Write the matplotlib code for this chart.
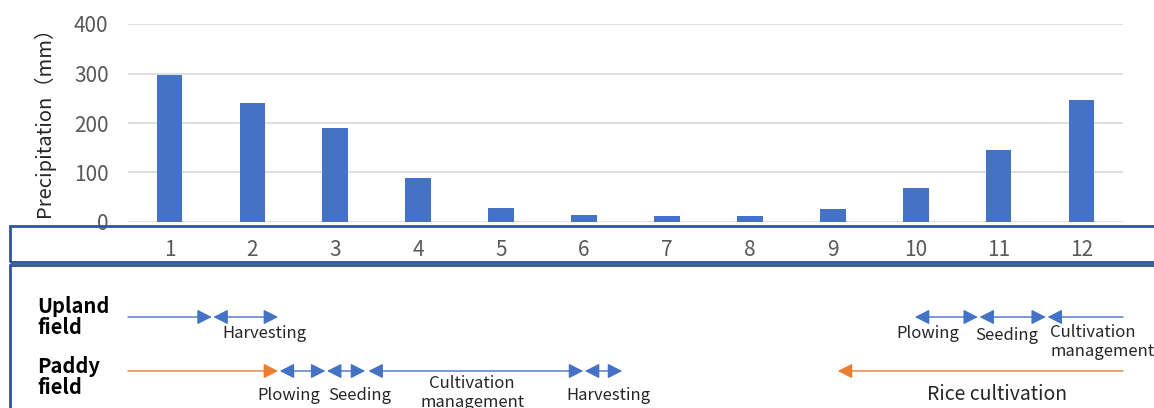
import matplotlib.pyplot as plt
from matplotlib.patches import Rectangle

plt.rcParams['font.family'] = ['Noto Sans CJK JP', 'DejaVu Sans']

# data
months = list(range(1, 13))
precip = [297, 240, 190, 89, 28, 14, 12, 12, 27, 68, 145, 247]

# work stages: (label, start month, end month, label x)
upland_stages = [
    ("Harvesting", 1.53, 2.31, 2.15),
    ("Plowing", 9.99, 10.75, 10.14),
    ("Seeding", 10.77, 11.57, 11.10),
]
upland_lead = (0.5, 1.51)               # arrow coming from previous season
upland_tail = ("Cultivation\nmanagement", 11.59, 12.5, 11.62)

paddy_stages = [
    ("Plowing", 2.33, 2.88, 2.44),
    ("Seeding", 2.90, 3.36, 3.29),
    ("Cultivation\nmanagement", 3.40, 5.99, 4.65),
    ("Harvesting", 6.01, 6.46, 6.30),
]
paddy_lead = (0.5, 2.31)
paddy_tail = ("Rice cultivation", 9.06, 12.5, 10.98)

blue = '#4472c4'
orange = '#ed7d31'
frame = '#2f5597'
W, H = 1154, 408

fig = plt.figure(figsize=(W / 100, H / 100), dpi=100)

# precipitation chart
ax = fig.add_axes([128 / W, 1 - 222 / H, 995 / W, 198 / H])
ax.bar(months, precip, width=0.31, color=blue, zorder=3)
ax.set_xlim(0.5, 12.5)
ax.set_ylim(0, 400)
ax.set_yticks([0, 100, 200, 300, 400])
ax.set_xticks(months)
ax.grid(axis='y', color='#d9d9d9', lw=1.2, zorder=0)
for s in ax.spines.values():
    s.set_visible(False)
ax.tick_params(length=0, labelsize=15, labelcolor='#595959')
ax.tick_params(axis='x', pad=12)
ax.tick_params(axis='y', pad=14)
ax.set_ylabel("Precipitation（mm）", fontsize=14.5, color='#262626')
ax.yaxis.set_label_coords(-0.073, 0.53)

# frames around month labels and the calendar
fig.add_artist(Rectangle((10 / W, 1 - 262 / H), 1200 / W, 36 / H, transform=fig.transFigure,
                         fill=False, ec=frame, lw=2))
fig.add_artist(Rectangle((10 / W, -0.1), 1200 / W, (408 - 265) / H + 0.1, transform=fig.transFigure,
                         fill=False, ec=frame, lw=2))

# farm calendar
cal = fig.add_axes([128 / W, 0, 995 / W, (408 - 265) / H])
cal.set_xlim(0.5, 12.5)
cal.set_ylim(408, 265)
cal.axis('off')

row_up, row_pd = 317, 371


def arrow(y, x0, x1, style, color):
    cal.annotate('', xy=(x1, y), xytext=(x0, y),
                 arrowprops=dict(arrowstyle=style + ',head_length=0.55,head_width=0.28',
                                 color=color, lw=1, shrinkA=0, shrinkB=0, mutation_scale=16),
                 annotation_clip=False)


def label(x, y, txt, size=12, ha='center', va='center'):
    cal.text(x, y, txt, fontsize=size, color='#262626', ha=ha, va=va, clip_on=False,
             linespacing=1.15)


fig.text(37 / W, 1 - 317 / H, "Upland\nfield", fontsize=14.5, fontweight='bold',
         va='center', ha='left', linespacing=1.05)
fig.text(37 / W, 1 - 377 / H, "Paddy\nfield", fontsize=14.5, fontweight='bold',
         va='center', ha='left', linespacing=1.05)

# upland field
arrow(row_up, upland_lead[0], upland_lead[1], '-|>', blue)
for name, a, b, lx in upland_stages:
    arrow(row_up, a, b, '<|-|>', blue)
    label(lx, row_up + 17 if name != "Seeding" else row_up + 19, name)
name, a, b, lx = upland_tail
arrow(row_up, b, a, '-|>', blue)
label(lx, row_up + 7, name, ha='left', va='top')

# paddy field
arrow(row_pd, paddy_lead[0], paddy_lead[1], '-|>', orange)
for name, a, b, lx in paddy_stages:
    arrow(row_pd, a, b, '<|-|>', blue)
    if '\n' in name:
        label(lx, row_pd + 4, name, va='top')
    else:
        label(lx, row_pd + 25, name)
name, a, b, lx = paddy_tail
arrow(row_pd, b, a, '-|>', orange)
label(lx, row_pd + 23, name, size=14)

fig.savefig('out.png', dpi=100)
